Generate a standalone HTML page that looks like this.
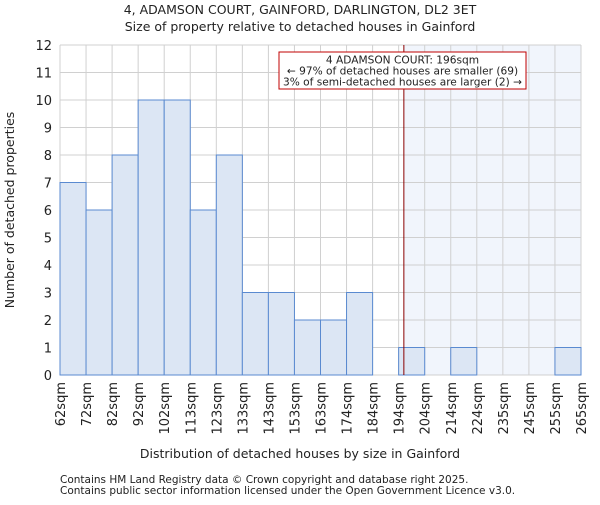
<!DOCTYPE html>
<html><head><meta charset="utf-8"><style>
body{margin:0;background:#fff;}
svg text{font-family:"DejaVu Sans","Liberation Sans",sans-serif;fill:#222;}
</style></head><body>
<svg id="chart" width="600" height="500" xmlns="http://www.w3.org/2000/svg">
<text x="300" y="14" text-anchor="middle" font-size="12.5">4, ADAMSON COURT, GAINFORD, DARLINGTON, DL2 3ET</text>
<text x="300" y="31" text-anchor="middle" font-size="12.5">Size of property relative to detached houses in Gainford</text>
<g id="plot"></g>
<text x="300" y="458" text-anchor="middle" font-size="12.5">Distribution of detached houses by size in Gainford</text>
<text transform="translate(14,210) rotate(-90)" text-anchor="middle" font-size="12.5">Number of detached properties</text>
<text x="60" y="483" font-size="10.5" fill="#444">Contains HM Land Registry data © Crown copyright and database right 2025.</text>
<text x="60" y="494" font-size="10.5" fill="#444">Contains public sector information licensed under the Open Government Licence v3.0.</text>
</svg>
<script>
const categories=["62sqm","72sqm","82sqm","92sqm","102sqm","113sqm","123sqm","133sqm","143sqm","153sqm","163sqm","174sqm","184sqm","194sqm","204sqm","214sqm","224sqm","235sqm","245sqm","255sqm","265sqm"];
const counts=[7,6,8,10,10,6,8,3,3,2,2,3,0,1,0,1,0,0,0,1];
const yTicks=[0,1,2,3,4,5,6,7,8,9,10,11,12];
const markerBin=13.2;
const NS="http://www.w3.org/2000/svg";
const X0=60,X1=581,Y0=375,Y1=45,YMAX=12;
const nb=counts.length;
const xs=i=>X0+(X1-X0)*i/nb;
const ys=v=>Y0-(Y0-Y1)*v/YMAX;
const g=document.getElementById('plot');
function mk(t,a){const e=document.createElementNS(NS,t);for(const k in a)e.setAttribute(k,a[k]);g.appendChild(e);return e;}
const mx=xs(markerBin);
let e=mk('rect',{x:mx,y:Y1,width:X1-mx,height:Y0-Y1,fill:'#eef2fb',opacity:0.8});


yTicks.forEach(t=>{
 let l=mk('line',{x1:X0,x2:X1,y1:ys(t),y2:ys(t),stroke:'#d0d0d0','stroke-width':1});
 
 
 let tx=mk('text',{x:X0-8,y:ys(t)+5,'text-anchor':'end','font-size':13});
 tx.textContent=t;
 
 
});
for(let i=0;i<=nb;i++){
 let l=mk('line',{x1:xs(i),x2:xs(i),y1:Y1,y2:Y0,stroke:'#d0d0d0','stroke-width':1});
 
 
}
counts.forEach((c,i)=>{
 if(c<=0)return;
 let r=mk('rect',{x:xs(i),y:ys(c),width:xs(i+1)-xs(i),height:Y0-ys(c),fill:'#dce6f4',stroke:'#5a8ad0','stroke-width':1});
 
 
});
categories.forEach((c,i)=>{
 const x=xs(i);
 let tx=mk('text',{transform:`translate(${x+5},382) rotate(-90)`,'text-anchor':'end','font-size':13});
 tx.textContent=c;
 
 
});
let ml=mk('line',{x1:mx,x2:mx,y1:Y1,y2:Y0,stroke:'#8b0000','stroke-width':1});


let bx=mk('rect',{x:279,y:52,width:247,height:37,fill:'#fff',stroke:'#c00000','stroke-width':1});


["4 ADAMSON COURT: 196sqm","← 97% of detached houses are smaller (69)","3% of semi-detached houses are larger (2) →"].forEach((s,i)=>{
 let tx=mk('text',{x:402.5,y:63.5+i*11,'text-anchor':'middle','font-size':10.6});
 tx.textContent=s;
 
 
});
</script>
</body></html>
